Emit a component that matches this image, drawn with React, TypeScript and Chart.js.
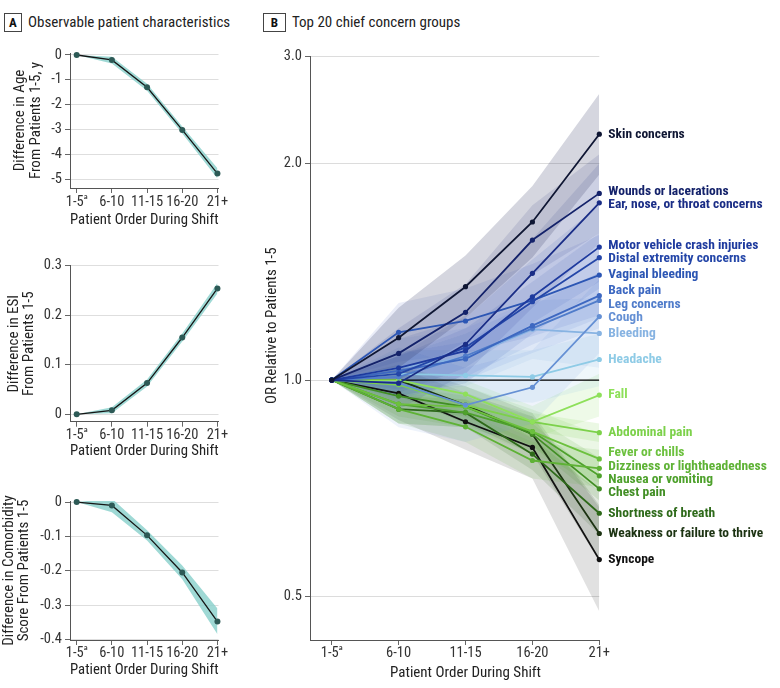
import React, { useEffect, useRef } from "react";
import { Chart, registerables } from "chart.js";
Chart.register(...registerables);

const FONT = "'Roboto Condensed', Lato, sans-serif";

// ---------- shared categories ----------
const orderCategories = ["1-5ᵃ", "6-10", "11-15", "16-20", "21+"];
const categoryIndex = [0, 1, 2, 3, 4];

// ---------- Panel A ----------
const ageDiff = [0, -0.2, -1.3, -3.02, -4.78];
const ageLo = [0, -0.34, -1.44, -3.16, -4.98];
const ageHi = [0, -0.07, -1.16, -2.88, -4.56];
const ageTicks = [0, -1, -2, -3, -4, -5];

const esiDiff = [0, 0.008, 0.063, 0.155, 0.254];
const esiLo = [0, 0.002, 0.056, 0.147, 0.244];
const esiHi = [0, 0.014, 0.07, 0.163, 0.265];
const esiTicks = [0, 0.1, 0.2, 0.3];

const comorbDiff = [0, -0.01, -0.097, -0.205, -0.348];
const comorbLo = [0, -0.03, -0.112, -0.225, -0.385];
const comorbHi = [0, 0.01, -0.082, -0.185, -0.31];
const comorbTicks = [0, -0.1, -0.2, -0.3, -0.4];

// ---------- Panel B (odds ratios relative to patients 1-5) ----------
const skinOR = [1, 1.145, 1.348, 1.658, 2.196];
const skinLo = [1, 1.04, 1.22, 1.48, 1.93];
const skinHi = [1, 1.26, 1.49, 1.86, 2.5];
const woundsOR = [1, 1.089, 1.242, 1.565, 1.817];
const woundsLo = [1, 1.0, 1.13, 1.4, 1.6];
const woundsHi = [1, 1.18, 1.36, 1.75, 2.06];
const earOR = [1, 0.99, 1.121, 1.407, 1.763];
const earLo = [1, 0.91, 1.02, 1.26, 1.55];
const earHi = [1, 1.08, 1.23, 1.57, 2.0];
const motorOR = [1, 1.04, 1.098, 1.305, 1.53];
const motorLo = [1, 0.95, 0.99, 1.16, 1.34];
const motorHi = [1, 1.14, 1.22, 1.47, 1.75];
const distalOR = [1, 1.02, 1.11, 1.285, 1.479];
const distalLo = [1, 0.96, 1.04, 1.2, 1.37];
const distalHi = [1, 1.08, 1.18, 1.37, 1.6];
const vaginalOR = [1, 1.165, 1.208, 1.29, 1.399];
const vaginalLo = [1, 1.06, 1.09, 1.15, 1.23];
const vaginalHi = [1, 1.28, 1.34, 1.45, 1.59];
const backOR = [1, 1.03, 1.07, 1.19, 1.31];
const backLo = [1, 0.97, 1.01, 1.12, 1.22];
const backHi = [1, 1.09, 1.13, 1.27, 1.41];
const legOR = [1, 1.01, 1.08, 1.18, 1.29];
const legLo = [1, 0.94, 1.0, 1.09, 1.18];
const legHi = [1, 1.08, 1.16, 1.28, 1.41];
const coughOR = [1, 0.99, 0.923, 0.977, 1.225];
const coughLo = [1, 0.86, 0.82, 0.87, 1.09];
const coughHi = [1, 1.11, 1.04, 1.1, 1.38];
const bleedingOR = [1, 1.04, 1.074, 1.176, 1.161];
const bleedingLo = [1, 0.95, 0.98, 1.07, 1.04];
const bleedingHi = [1, 1.14, 1.18, 1.29, 1.3];
const headacheOR = [1, 1.02, 1.015, 1.01, 1.068];
const headacheLo = [1, 0.95, 0.94, 0.93, 0.98];
const headacheHi = [1, 1.1, 1.1, 1.1, 1.16];
const fallOR = [1, 1.0, 0.956, 0.875, 0.953];
const fallLo = [1, 0.96, 0.91, 0.83, 0.89];
const fallHi = [1, 1.04, 1.0, 0.92, 1.02];
const abdominalOR = [1, 0.985, 0.923, 0.875, 0.845];
const abdominalLo = [1, 0.96, 0.9, 0.85, 0.82];
const abdominalHi = [1, 1.01, 0.95, 0.9, 0.87];
const feverOR = [1, 0.926, 0.918, 0.848, 0.777];
const feverLo = [1, 0.87, 0.86, 0.79, 0.72];
const feverHi = [1, 0.99, 0.98, 0.91, 0.84];
const dizzinessOR = [1, 0.911, 0.861, 0.773, 0.754];
const dizzinessLo = [1, 0.87, 0.82, 0.73, 0.71];
const dizzinessHi = [1, 0.95, 0.9, 0.82, 0.8];
const nauseaOR = [1, 0.926, 0.901, 0.848, 0.736];
const nauseaLo = [1, 0.89, 0.86, 0.81, 0.7];
const nauseaHi = [1, 0.96, 0.94, 0.89, 0.78];
const chestOR = [1, 0.95, 0.918, 0.841, 0.706];
const chestLo = [1, 0.92, 0.89, 0.81, 0.68];
const chestHi = [1, 0.98, 0.95, 0.87, 0.73];
const breathOR = [1, 0.911, 0.901, 0.789, 0.653];
const breathLo = [1, 0.87, 0.86, 0.75, 0.61];
const breathHi = [1, 0.95, 0.94, 0.83, 0.7];
const weaknessOR = [1, 1.0, 0.923, 0.841, 0.612];
const weaknessLo = [1, 0.95, 0.87, 0.79, 0.56];
const weaknessHi = [1, 1.05, 0.98, 0.9, 0.67];
const syncopeOR = [1, 0.958, 0.875, 0.806, 0.563];
const syncopeLo = [1, 0.88, 0.8, 0.73, 0.477];
const syncopeHi = [1, 1.04, 0.96, 0.89, 0.665];

const referenceOR = [1, 1];
const orAxisTickValues = [0.5, 1, 2, 2.82];
const orAxisTickLabels = ["0.5", "1.0", "2.0", "3.0"];

const concernSeries = [
  { name: "Skin concerns", or: skinOR, lo: skinLo, hi: skinHi, color: "#0f1633", band: "rgba(45,48,95,0.2)" },
  { name: "Wounds or lacerations", or: woundsOR, lo: woundsLo, hi: woundsHi, color: "#14226a", band: "rgba(40,55,130,0.13)" },
  { name: "Ear, nose, or throat concerns", or: earOR, lo: earLo, hi: earHi, color: "#1a2d86", band: "rgba(40,60,150,0.12)" },
  { name: "Motor vehicle crash injuries", or: motorOR, lo: motorLo, hi: motorHi, color: "#1e3a9e", band: "rgba(40,70,170,0.11)" },
  { name: "Distal extremity concerns", or: distalOR, lo: distalLo, hi: distalHi, color: "#2446a8", band: "rgba(50,80,180,0.11)" },
  { name: "Vaginal bleeding", or: vaginalOR, lo: vaginalLo, hi: vaginalHi, color: "#2c56b4", band: "rgba(60,95,190,0.11)" },
  { name: "Back pain", or: backOR, lo: backLo, hi: backHi, color: "#3d68c1", band: "rgba(70,110,200,0.11)" },
  { name: "Leg concerns", or: legOR, lo: legLo, hi: legHi, color: "#507cca", band: "rgba(85,125,210,0.11)" },
  { name: "Cough", or: coughOR, lo: coughLo, hi: coughHi, color: "#6590d4", band: "rgba(100,145,215,0.11)" },
  { name: "Bleeding", or: bleedingOR, lo: bleedingLo, hi: bleedingHi, color: "#87b3e2", band: "rgba(130,175,225,0.12)" },
  { name: "Headache", or: headacheOR, lo: headacheLo, hi: headacheHi, color: "#8ecbe6", band: "rgba(140,200,230,0.14)" },
  { name: "Fall", or: fallOR, lo: fallLo, hi: fallHi, color: "#8ee05a", band: "rgba(150,225,110,0.16)" },
  { name: "Abdominal pain", or: abdominalOR, lo: abdominalLo, hi: abdominalHi, color: "#7cd14a", band: "rgba(130,210,90,0.16)" },
  { name: "Fever or chills", or: feverOR, lo: feverLo, hi: feverHi, color: "#6cc13e", band: "rgba(115,195,75,0.14)" },
  { name: "Dizziness or lightheadedness", or: dizzinessOR, lo: dizzinessLo, hi: dizzinessHi, color: "#5eb235", band: "rgba(100,180,65,0.14)" },
  { name: "Nausea or vomiting", or: nauseaOR, lo: nauseaLo, hi: nauseaHi, color: "#4ea12c", band: "rgba(85,160,55,0.14)" },
  { name: "Chest pain", or: chestOR, lo: chestLo, hi: chestHi, color: "#418e24", band: "rgba(70,140,45,0.14)" },
  { name: "Shortness of breath", or: breathOR, lo: breathLo, hi: breathHi, color: "#2e6a1a", band: "rgba(55,100,40,0.15)" },
  { name: "Weakness or failure to thrive", or: weaknessOR, lo: weaknessLo, hi: weaknessHi, color: "#1c3312", band: "rgba(40,60,35,0.15)" },
  { name: "Syncope", or: syncopeOR, lo: syncopeLo, hi: syncopeHi, color: "#111111", band: "rgba(40,40,40,0.14)" },
];

const pts = (arr: number[]) => arr.map((y, i) => ({ x: categoryIndex[i], y }));

type SmallProps = {
  est: number[]; lo: number[]; hi: number[]; ticks: number[];
  yMin: number; yMax: number; title: string[];
  top: number; height: number; areaTop: number; areaBottom: number;
  xTitleY: number; yTitlePad: number; tickPad: number;
};

function SmallChart(p: SmallProps) {
  const ref = useRef<HTMLCanvasElement>(null);
  useEffect(() => {
    const W = 240;
    const bottom = p.top + p.height;
    const xTitleSize = 15;
    const chart = new Chart(ref.current!, {
      type: "line",
      data: {
        datasets: [
          { data: pts(p.hi), borderColor: "rgba(0,0,0,0)", borderWidth: 0, pointRadius: 0, fill: "+1", backgroundColor: "rgba(135,208,203,0.8)", order: 3 },
          { data: pts(p.lo), borderColor: "rgba(0,0,0,0)", borderWidth: 0, pointRadius: 0, fill: false, order: 3 },
          { data: pts(p.est), borderColor: "#151515", borderWidth: 1.3, pointRadius: 3, pointBackgroundColor: "#2d5a56", pointBorderWidth: 0, fill: false, order: 1, clip: false } as any,
        ],
      },
      options: {
        animation: false,
        responsive: false,
        maintainAspectRatio: false,
        layout: { padding: { top: p.areaTop - p.top, left: 0, right: W - 218.5, bottom: 0 } },
        plugins: { legend: { display: false }, tooltip: { enabled: false } },
        scales: {
          x: {
            type: "linear", min: -0.19, max: 4.03,
            afterBuildTicks: (s: any) => { s.ticks = categoryIndex.map((v) => ({ value: v })); },
            afterFit: (s: any) => { s.height = bottom - p.areaBottom; },
            ticks: { callback: (v: any) => orderCategories[v], font: { family: FONT, size: 14.5 }, color: "#333", padding: p.tickPad, maxRotation: 0, autoSkip: false },
            grid: { drawOnChartArea: false, drawTicks: true, tickLength: 5, tickColor: "#666" },
            border: { color: "#555", width: 1 },
            title: { display: true, text: "Patient Order During Shift", font: { family: FONT, size: xTitleSize, lineHeight: 1.2 }, color: "#222", padding: { top: 0, bottom: bottom - p.xTitleY - (xTitleSize * 1.2) / 2 } },
          },
          y: {
            type: "linear", min: p.yMin, max: p.yMax,
            afterBuildTicks: (s: any) => { s.ticks = p.ticks.map((v) => ({ value: v })); },
            afterFit: (s: any) => { s.width = 70; },
            ticks: { callback: (v: any) => String(v), font: { family: FONT, size: 14.5 }, color: "#333", padding: 3 },
            grid: { color: "#dedede", tickColor: "#666", tickLength: 5, drawTicks: true },
            border: { color: "#555", width: 1 },
            title: { display: true, text: p.title, font: { family: FONT, size: 15, lineHeight: 1.05 }, color: "#222", padding: { top: p.yTitlePad, bottom: 0 } },
          },
        },
      } as any,
    });
    return () => chart.destroy();
  }, []);
  return <canvas ref={ref} width={240} height={p.height} style={{ position: "absolute", left: 0, top: p.top, width: 240, height: p.height }} />;
}

function spreadLabels(ys: number[], gap: number) {
  const idx = ys.map((_, i) => i).sort((a, b) => ys[a] - ys[b]);
  const pos = idx.map((i) => ys[i]);
  for (let it = 0; it < 300; it++) {
    let moved = false;
    for (let k = 1; k < pos.length; k++) {
      const d = pos[k] - pos[k - 1];
      if (d < gap - 0.01) {
        const s = (gap - d) / 2;
        pos[k - 1] -= s;
        pos[k] += s;
        moved = true;
      }
    }
    if (!moved) break;
  }
  const out: number[] = new Array(ys.length);
  idx.forEach((i, k) => (out[i] = pos[k]));
  return out;
}

function ConcernChart() {
  const ref = useRef<HTMLCanvasElement>(null);
  useEffect(() => {
    const W = 525, H = 648;
    const datasets: any[] = [];
    concernSeries.forEach((s) => {
      datasets.push({ data: pts(s.or), borderColor: s.color, backgroundColor: s.color, borderWidth: 1.8, pointRadius: 2.6, pointBorderWidth: 0, pointBackgroundColor: s.color, fill: false, order: 1, clip: false });
    });
    datasets.push({ data: referenceOR.map((y, i) => ({ x: categoryIndex[i === 0 ? 0 : 4], y })), borderColor: "#000", borderWidth: 1.3, pointRadius: 0, fill: false, order: 2 });
    concernSeries.forEach((s) => {
      datasets.push({ data: pts(s.hi), borderColor: "rgba(0,0,0,0)", borderWidth: 0, pointRadius: 0, fill: "+1", backgroundColor: s.band, order: 3 });
      datasets.push({ data: pts(s.lo), borderColor: "rgba(0,0,0,0)", borderWidth: 0, pointRadius: 0, fill: false, order: 3 });
    });
    const labelPlugin = {
      id: "concernLabels",
      afterDraw(chart: any) {
        const { ctx, chartArea, scales } = chart;
        const ys = concernSeries.map((s) => scales.y.getPixelForValue(s.or[4]));
        const placed = spreadLabels(ys, 13.3);
        ctx.save();
        ctx.font = `bold 13.5px ${FONT}`;
        ctx.textBaseline = "middle";
        ctx.textAlign = "left";
        concernSeries.forEach((s, i) => {
          ctx.fillStyle = s.color;
          ctx.fillText(s.name, chartArea.right + 9, placed[i]);
        });
        // axis titles
        ctx.fillStyle = "#222";
        ctx.font = `15px ${FONT}`;
        ctx.textAlign = "center";
        const xc = (scales.x.getPixelForValue(0) + scales.x.getPixelForValue(4)) / 2;
        ctx.fillText("Patient Order During Shift", xc, chartArea.bottom + 33);
        ctx.translate(17, scales.y.getPixelForValue(1.19));
        ctx.rotate(-Math.PI / 2);
        ctx.fillText("OR Relative to Patients 1-5", 0, 0);
        ctx.restore();
      },
    };
    const chart = new Chart(ref.current!, {
      type: "line",
      data: { datasets },
      options: {
        animation: false,
        responsive: false,
        maintainAspectRatio: false,
        layout: { padding: { top: 16, left: 0, right: W - 344.3, bottom: 0 } },
        plugins: { legend: { display: false }, tooltip: { enabled: false } },
        scales: {
          x: {
            type: "linear", min: -0.325, max: 4.0,
            afterBuildTicks: (s: any) => { s.ticks = categoryIndex.map((v) => ({ value: v })); },
            afterFit: (s: any) => { s.height = H - 600; },
            ticks: { callback: (v: any) => orderCategories[v], font: { family: FONT, size: 14.5 }, color: "#333", padding: 0, maxRotation: 0, autoSkip: false },
            grid: { drawOnChartArea: false, drawTicks: true, tickLength: 5, tickColor: "#666" },
            border: { color: "#555", width: 1 },
          },
          y: {
            type: "logarithmic", min: 0.4353, max: 2.82,
            afterBuildTicks: (s: any) => { s.ticks = orAxisTickValues.map((v) => ({ value: v })); },
            afterFit: (s: any) => { s.width = 55; },
            ticks: { callback: (_v: any, i: number) => orAxisTickLabels[i], font: { family: FONT, size: 14.5 }, color: "#333", padding: 3 },
            grid: { color: "#dcdcdc", tickColor: "#666", tickLength: 5, drawTicks: true },
            border: { color: "#555", width: 1 },
          },
        },
      } as any,
      plugins: [labelPlugin],
    });
    return () => chart.destroy();
  }, []);
  return <canvas ref={ref} width={525} height={648} style={{ position: "absolute", left: 255, top: 40, width: 525, height: 648 }} />;
}

function PanelHeader({ letter, left, boxW, textLeft, text }: { letter: string; left: number; boxW: number; textLeft: number; text: string }) {
  return (
    <>
      <div style={{ position: "absolute", left, top: 13, width: boxW, height: 19, border: "1px solid #444", boxSizing: "border-box", font: `bold 13px ${FONT}`, lineHeight: "17px", textAlign: "center", color: "#111" }}>{letter}</div>
      <div style={{ position: "absolute", left: textLeft, top: 12, font: `15px ${FONT}`, lineHeight: "20px", color: "#222", whiteSpace: "nowrap" }}>{text}</div>
    </>
  );
}

export default function App() {
  return (
    <div style={{ position: "fixed", left: 0, top: 0, width: 780, height: 688, background: "#fff", overflow: "hidden" }}>
      <PanelHeader letter="A" left={4} boxW={18} textLeft={28} text="Observable patient characteristics" />
      <PanelHeader letter="B" left={263} boxW={23} textLeft={292} text="Top 20 chief concern groups" />
      <SmallChart est={ageDiff} lo={ageLo} hi={ageHi} ticks={ageTicks} yMin={-5.36} yMax={0.08}
        title={["Difference in Age", "From Patients 1-5, y"]} top={40} height={200} areaTop={53} areaBottom={188}
        xTitleY={220.7} yTitlePad={12.5} tickPad={1} />
      <SmallChart est={esiDiff} lo={esiLo} hi={esiHi} ticks={esiTicks} yMin={-0.015} yMax={0.3}
        title={["Difference in ESI", "From Patients 1-5"]} top={245} height={230} areaTop={265.7} areaBottom={421.7}
        xTitleY={451.7} yTitlePad={6} tickPad={0} />
      <SmallChart est={comorbDiff} lo={comorbLo} hi={comorbHi} ticks={comorbTicks} yMin={-0.4015} yMax={0.003}
        title={["Difference in Comorbidity", "Score From Patients 1-5"]} top={470} height={218} areaTop={501} areaBottom={640}
        xTitleY={670.7} yTitlePad={1} tickPad={0} />
      <ConcernChart />
    </div>
  );
}
